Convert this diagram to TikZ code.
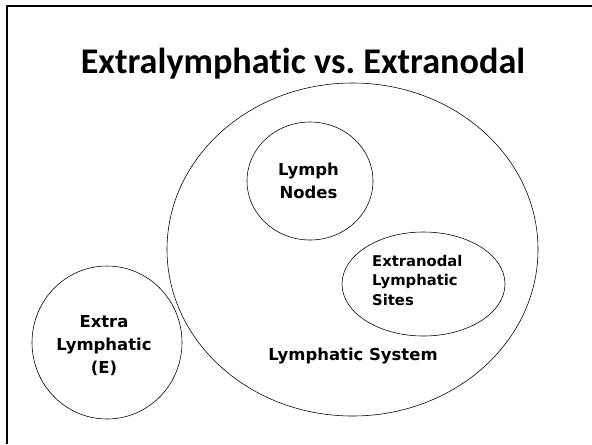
\documentclass[tikz,border=0pt]{standalone}
\usepackage{fontspec}
\setmainfont{Carlito}[Ligatures=NoCommon]
\newfontfamily\dejavu{DejaVu Sans}
\usetikzlibrary{shapes.geometric}
\newcommand\pxu{1.2162pt}
\frenchspacing
\begin{document}
\begin{tikzpicture}[x=\pxu,y=-\pxu,line join=round,line cap=round,
  ring/.style={draw,ellipse,line width=0.7pt,inner sep=0pt},
  lbl/.style={inner sep=0pt,align=center,font=\dejavu\bfseries\fontsize{20}{28}\selectfont}]
\useasboundingbox (0,0) rectangle (592,444);
%%khung trang
\draw[line width=2.4pt,line cap=butt] (7,444)--(7,6)--(592,6);
\node[anchor=base,inner sep=0pt,font=\bfseries\fontsize{44}{52}\selectfont] (title) at (303,73) {Extralymphatic vs.\ Extranodal};
%%cac vung
\node[ring,minimum width={371*\pxu},minimum height={333*\pxu}] (lsys) at (352.5,249.5) {};
\node[ring,minimum width={126*\pxu},minimum height={118*\pxu}] (nodes) at (310,181) {};
\node[ring,minimum width={163*\pxu},minimum height={104*\pxu}] (sites) at (423.5,284) {};
\node[ring,minimum width={150*\pxu},minimum height={153*\pxu}] (extra) at (107,342.5) {};
%%nhan
\node[lbl] (tnodes) at (308.5,181.3) {Lymph\\Nodes};
\node[lbl,align=left,anchor=west,font=\dejavu\bfseries\fontsize{18}{24}\selectfont] (tsites) at (372,280.4) {Extranodal\\Lymphatic\\Sites};
\node[lbl] (textra) at (104,345.8) {Extra\\Lymphatic\\(E)};
\node[lbl,anchor=base] (tlsys) at (353,360) {Lymphatic System};
\end{tikzpicture}
\end{document}
